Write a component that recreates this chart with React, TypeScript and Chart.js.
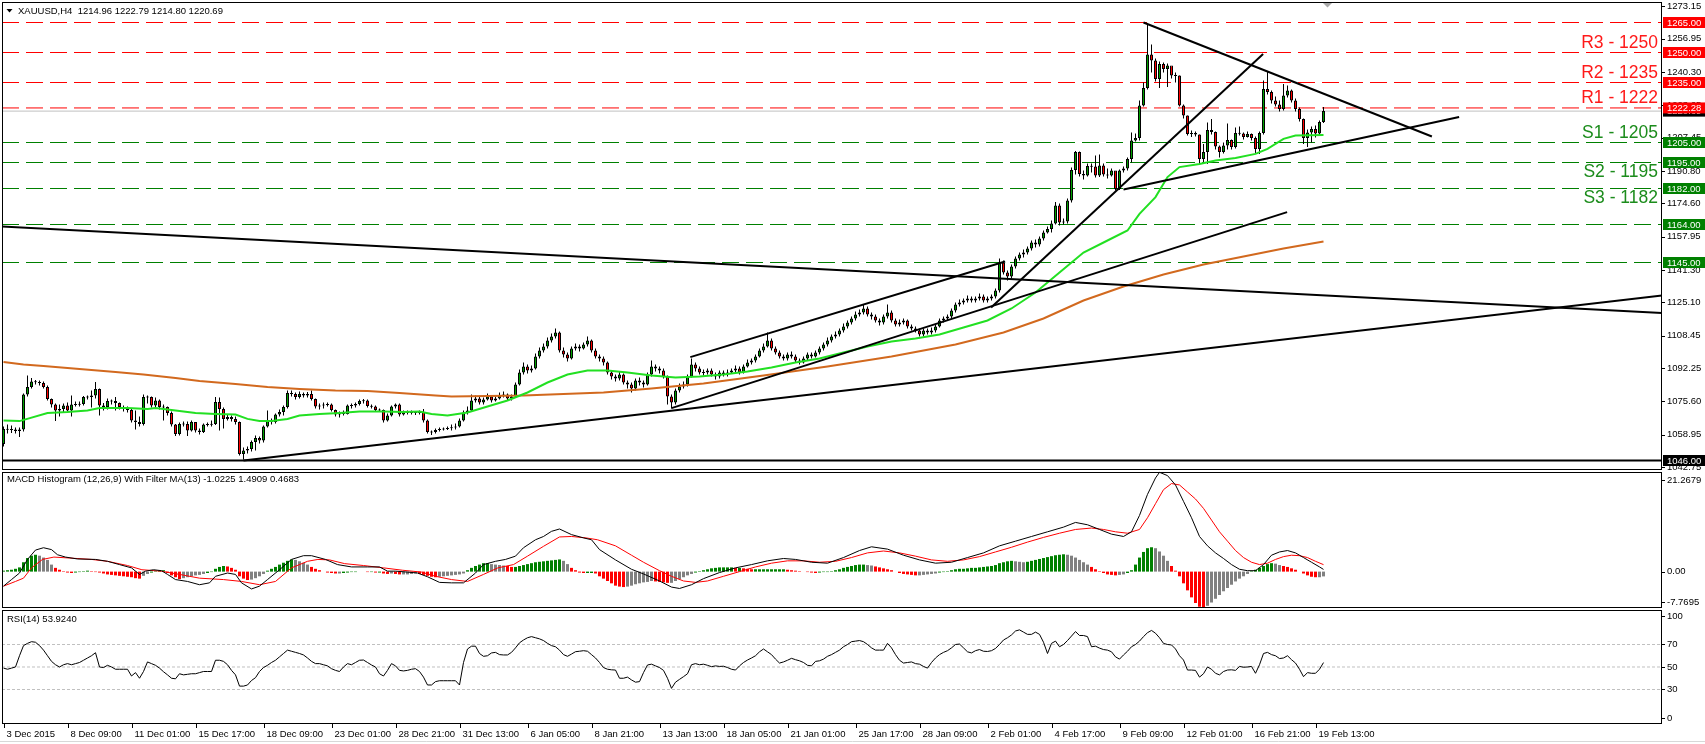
import React, { useEffect, useRef } from 'react';
import { Chart, registerables } from 'chart.js';

Chart.register(...registerables);

// ---------------- DATA (H4 bars, index 0 = 3 Dec 2015) ----------------
const firstOpen = 1054.3;

const closes = [
  1061.8,1061.5,1061.5,1060.7,1061.5,1079,1082.7,1085.5,1085.2,1084.8,
  1082.7,1076.8,1074,1071,1071.8,1073.5,1071,1074,1074,1074.3,
  1077.7,1077.7,1078.5,1081.8,1073.5,1072.7,1075.7,1075.7,1074.7,1072.7,
  1072.3,1071.3,1066,1065.2,1064.3,1077.7,1077.7,1073.5,1076,1072.7,
  1072.7,1069.8,1064,1059.3,1064.3,1064.3,1061,1065.2,1061,1060.2,
  1064,1064,1064.3,1075.2,1071.8,1066.8,1067.7,1066.8,1065.2,1049.3,
  1051,1051.8,1055.2,1057.2,1056,1063,1065.7,1065.3,1069,1070.2,
  1072.7,1079.7,1079.3,1077.7,1079.3,1078.5,1079.3,1076.8,1073,1073.5,
  1074,1074,1071.3,1069,1069.7,1069.3,1073.5,1073.5,1074.3,1075.7,
  1076,1073.3,1073,1071.3,1071.3,1066,1068.5,1073,1074,1069,
  1070.2,1069.7,1070.2,1069.7,1070.2,1066,1060.2,1060.2,1061.3,1061.8,
  1061.8,1062.2,1062.5,1063,1066,1070,1071,1076,1077,1075,
  1076.5,1078,1076,1077,1078.5,1079,1077,1078,1084,1090,
  1093,1091,1092,1098,1101,1103,1106,1108,1110,1101,
  1099,1097,1102,1103,1102,1104,1106,1101,1098,1097,
  1095,1090,1088,1087,1089,1085,1084,1082,1086,1085,
  1084,1089,1093,1092,1091,1088,1078,1075,1081,1083,
  1084,1088,1094,1092,1090,1090,1091,1089,1088,1090,
  1089,1090,1091,1092,1090,1093,1095,1096,1098,1101,
  1103,1106,1102,1100,1098,1097,1099,1098,1096,1095,
  1097,1099,1098,1100,1102,1104,1106,1108,1109,1111,
  1113,1115,1117,1119,1120,1122,1119,1118,1116,1115,
  1118,1120,1116,1114,1115,1116,1113,1112,1111,1109,
  1111,1110,1111,1113,1116,1117,1118,1121,1124,1125,
  1126,1127,1126,1127,1128,1126,1127,1128,1131,1145,
  1140,1138,1143,1147,1149,1150,1152,1155,1154,1157,
  1160,1161.8,1164.5,1173.5,1165,1165.5,1176,1191.3,1200.2,1189.3,
  1188.5,1193.2,1193,1188.5,1193.5,1189,1188.5,1191,1181.8,1191,
  1192,1196.8,1206,1207.3,1223.5,1232.3,1249,1246,1236.8,1244.3,
  1241.8,1243.5,1238.5,1238.5,1223.5,1218.5,1209.3,1209.7,1209,1196.8,
  1200.2,1211.3,1210.2,1203,1200.2,1203.5,1206.3,1202.7,1209.7,1209.5,
  1207.7,1209.3,1207.3,1201.8,1209.7,1231.8,1230.2,1226,1224,1221.8,
  1228.5,1231,1226,1221.8,1216.8,1207.3,1210,1211.8,1209.5,1215.2,1220.69
];

const highs = [
  1063,1064,1063.5,1062.5,1062.5,1079.5,1088.5,1087.2,1086.2,1086,
  1085.5,1083.5,1077,1074.5,1074,1074.5,1075,1078.5,1075.5,1075.5,
  1078.2,1078.5,1081,1085.2,1082,1074.7,1077,1076.5,1077.7,1075,
  1073.5,1073,1071.8,1071,1068,1079,1078.5,1078,1077.5,1076.5,
  1074,1073,1070.5,1064.3,1065,1065.5,1065.5,1066,1063.5,1062,
  1064.5,1065,1066,1077.7,1077.5,1072.5,1069,1068.5,1068,1065.5,
  1052.5,1053,1056,1058.5,1058,1063.5,1071,1067,1069.5,1071.5,
  1073.5,1081,1081,1080,1080.5,1080,1080.2,1081,1077,1074.5,
  1075,1075,1074.5,1071.5,1070.5,1071,1074,1074.5,1075,1076.5,
  1076.8,1076.5,1074,1073.5,1072,1071.5,1069.5,1073.5,1074.5,1074.5,
  1071,1071,1071,1070.5,1071,1071.8,1066.5,1061,1062,1062.5,
  1062.5,1063,1064,1064.5,1067,1071,1073,1079,1078.5,1078,
  1077.5,1079.5,1078.5,1078,1080,1080.5,1079.5,1079,1085,1091.5,
  1095,1094,1093.5,1099.5,1102.5,1104.5,1107.5,1109.5,1112,1110.5,
  1102.5,1100,1103,1104.5,1104,1105,1108,1106.5,1102,1099,
  1098,1095.5,1091,1089,1090.5,1089.5,1086,1085,1087,1087.5,
  1086,1090,1096,1094,1093,1092,1088.5,1079,1082,1084.5,
  1085.5,1089,1097,1095,1093,1091.5,1092,1092,1090,1091,
  1091,1091.5,1092,1093.5,1093,1094,1096.5,1097,1099,1102,
  1104.5,1110,1107,1103,1101,1099,1100,1100.5,1099,1097,
  1098,1100,1100,1101,1103,1105,1107.5,1109,1110.5,1112,
  1114.5,1116,1118,1120.5,1121.5,1124,1123,1120,1119,1117,
  1119,1124,1121,1117,1116.5,1117,1116.5,1114,1113,1112,
  1112,1112,1112.5,1114,1117,1118,1119,1122,1125,1126.5,
  1127,1128.5,1128,1128,1129.5,1129,1128,1129,1132,1147,
  1146,1141,1144,1148,1150,1151.5,1153,1156,1156.5,1158,
  1161,1163,1166,1175.2,1174.5,1167,1177,1192.5,1200.7,1200.5,
  1191,1194.5,1194.5,1198.5,1199,1194.5,1192,1192,1190.5,1191.5,
  1193,1197.5,1210,1209.5,1226,1235,1264.3,1254,1247,1245.5,
  1245,1244.5,1242,1240,1238.5,1224,1218.5,1211,1210.5,1209,
  1204.3,1215,1216.8,1210.5,1203.5,1205,1214.5,1206.5,1212.5,1213,
  1210,1210.5,1209.5,1208,1210.5,1236,1240.2,1231,1228,1226,
  1234.3,1233.5,1231.5,1227,1222.5,1217,1211.5,1213,1213.5,1216,1222.79
];

const lows = [
  1053,1059.5,1059.7,1059.5,1057.7,1060.5,1078,1082,1084,1083.5,
  1082,1076,1072.5,1065.7,1068,1070,1070.5,1068,1073,1073,
  1073.5,1076.5,1072.5,1077,1068.5,1071,1071.5,1074,1071,1071.5,
  1070.5,1070,1065,1061.5,1063,1063.5,1074.5,1072.5,1072,1071.5,
  1066,1068.5,1063,1058.2,1058.5,1063,1058.2,1060.5,1060,1059,
  1059.8,1063,1063,1063.8,1061,1062,1066,1065.5,1064,1048.5,
  1046.5,1049.5,1050.5,1051,1054.5,1055,1062.5,1064,1064.5,1068,
  1068.5,1072,1078,1076.5,1077,1077.5,1077.5,1076,1072,1071.5,
  1072,1073,1070.5,1068,1067.5,1068.5,1069,1072,1072.5,1073.5,
  1074.5,1072.5,1072,1070.5,1070.5,1065,1065.5,1068,1072,1068,
  1068.5,1069,1069,1068.8,1069,1065,1059.5,1058.8,1059.5,1060.5,
  1061,1061.3,1061,1061.5,1062.5,1065.5,1069,1070.5,1075,1074,
  1074,1076,1075,1075.5,1076.5,1077.5,1076,1076,1077.5,1083.5,
  1089,1089.5,1090,1091.5,1097,1100,1102,1105,1107,1100,
  1097.5,1095.5,1096.5,1101,1100.5,1101.5,1103,1100,1097,1095.5,
  1093.5,1089,1086.5,1085.5,1086,1084,1082,1080,1081,1083.5,
  1082.5,1083.5,1088,1090.5,1089.5,1087,1074,1072,1074,1080,
  1082,1083,1087.5,1090.5,1089,1088.5,1089,1088,1086.5,1087,
  1088,1088,1089.5,1090,1089,1089.5,1092.5,1094,1095,1097.5,
  1100,1102.5,1101,1099,1097,1096,1096,1097,1095,1094,
  1094.5,1096,1097,1097.5,1099,1101,1103,1105,1107,1108,
  1110,1112,1114,1116,1118,1119,1118,1116.5,1115,1113.5,
  1114,1117,1115,1113,1113,1114,1112,1111,1110,1108,
  1108,1109,1109,1110,1112.5,1115,1116,1117,1120,1123,
  1124,1125,1125,1125,1126,1125,1125,1126,1127,1130,
  1139,1136,1137,1142,1146,1147.5,1149,1151,1152.5,1153,
  1156,1159.5,1160,1164,1163.5,1164,1164.5,1175,1189,1188,
  1186.5,1188,1190,1187.5,1187.7,1188,1187,1188,1181,1181.3,
  1190,1191,1195,1205.5,1206,1223,1231.5,1240,1235.5,1232.3,
  1240,1232.7,1237,1235,1223,1217,1208.5,1207.7,1208,1194.3,
  1195,1194.3,1209,1201.5,1197.5,1199.5,1201.5,1201.5,1202,1208.5,
  1206.5,1207.5,1206,1199.7,1199.3,1209,1229,1224.5,1223,1220.5,
  1221,1227.5,1225,1220.5,1215.5,1204.3,1202.7,1205,1207.5,1208.5,1214.8
];

// moving averages [bar, value]
const ma50 = [
  [0,1066],[4,1065.7],[11,1069.7],[16,1070.2],[21,1071],[24,1072.3],[31,1072.3],[36,1071.8],[38,1072.3],
  [43,1071],[48,1069.7],[53,1069.3],[58,1069],[61,1066.8],[64,1065.7],[67,1065.7],[71,1066.8],[74,1068.5],
  [79,1069.3],[84,1069.8],[89,1070.5],[95,1070.5],[100,1070.2],[104,1070.5],[107,1069.3],[111,1068.5],
  [116,1070],[121,1073],[126,1076],[131,1080],[136,1085],[141,1089],[146,1091],[151,1091],[156,1090],
  [162,1088.5],[168,1087.5],[174,1088],[180,1089],[186,1090.5],[192,1092.5],[198,1095],[204,1097],
  [210,1100],[216,1103],[222,1105.5],[228,1107],[234,1109],[240,1112.5],[246,1116],[252,1122],[258,1130],
  [264,1140],[270,1150],[276,1156],[281,1161],[284,1169.3],[288,1177.7],[291,1187.7],[294,1192.7],
  [299,1194.3],[303,1196],[308,1197.3],[313,1199.3],[316,1201.8],[320,1206.8],[323,1208.5],[330,1208.8]
];
const ma200 = [
  [0,1095.2],[5,1094],[10,1093.2],[16,1092.3],[22,1091.3],[28,1090.2],[35,1089],[43,1087.3],[49,1085.7],
  [58,1084.3],[66,1082.7],[74,1081.8],[83,1081],[91,1080.7],[99,1079.7],[108,1078.5],[112,1078],
  [130,1078.5],[150,1080],[162,1082],[175,1084.5],[190,1088.5],[206,1093],[222,1098],[238,1104],
  [250,1110],[260,1117],[270,1126],[280,1133],[290,1139],[300,1144],[310,1148],[320,1152],[330,1155.5]
];

// MACD histogram (per bar) and lines [bar, value]
const macdHist = [
  0.2,0.3,0.4,0.6,0.9,2.0,2.9,3.4,3.6,3.4,
  3.0,2.5,1.5,0.8,0.4,0.1,-0.2,-0.3,-0.2,-0.1,
  0.1,0.2,0.1,-0.1,-0.2,-0.4,-0.6,-0.7,-0.8,-0.9,
  -1.0,-1.1,-1.2,-1.4,-1.5,-0.9,-0.5,-0.2,0.1,0.2,
  0.3,-0.3,-0.8,-1.2,-1.6,-1.4,-1.2,-1.0,-0.8,-0.7,
  -0.5,-0.3,-0.1,0.6,1.0,1.2,1.1,0.8,0.4,-1.0,
  -1.5,-1.8,-1.7,-1.4,-1.0,-0.5,0.2,0.6,1.0,1.5,
  1.9,2.3,2.6,2.5,2.2,1.9,1.5,1.0,0.6,0.3,
  0.0,-0.2,-0.3,-0.4,-0.4,-0.3,-0.2,-0.1,-0.1,0.0,
  0.0,-0.1,-0.1,-0.2,-0.2,-0.4,-0.5,-0.4,-0.5,-0.6,
  -0.6,-0.6,-0.5,-0.4,-0.5,-0.7,-0.9,-1.1,-1.2,-1.1,
  -1.0,-0.9,-0.8,-0.7,-0.6,-0.4,0.3,0.8,1.2,1.5,
  1.8,1.8,1.6,1.5,1.4,1.3,1.2,1.0,1.0,1.2,
  1.4,1.6,1.8,2.0,2.1,2.2,2.3,2.4,2.5,2.6,
  2.3,1.6,0.8,0.3,-0.2,-0.3,-0.3,-0.3,-0.4,-1.0,
  -1.5,-2.0,-2.5,-3.0,-3.2,-3.3,-3.2,-3.0,-2.7,-2.5,
  -2.3,-2.2,-2.0,-2.1,-2.2,-2.3,-2.4,-2.4,-2.0,-1.6,
  -1.2,-0.8,-0.5,-0.2,0.1,0.3,0.5,0.7,0.8,0.9,
  0.9,0.9,0.9,0.8,0.8,0.7,0.6,0.5,0.5,0.5,
  0.5,0.5,0.5,0.5,0.5,0.5,0.4,0.3,0.2,0.1,
  0.0,-0.1,-0.2,-0.3,-0.2,-0.1,-0.1,0.1,0.3,0.5,
  0.8,1.0,1.2,1.4,1.5,1.5,1.4,1.3,1.1,0.9,
  0.7,0.5,0.3,0.0,-0.3,-0.5,-0.6,-0.7,-0.8,-0.8,
  -0.7,-0.6,-0.5,-0.4,-0.2,-0.1,0.1,0.3,0.5,0.6,
  0.6,0.7,0.8,0.8,0.9,1.0,1.1,1.2,1.4,1.8,
  2.0,2.2,2.3,2.2,2.1,2.0,2.1,2.3,2.5,2.7,
  2.9,3.1,3.3,3.5,3.6,3.7,3.6,3.4,3.0,2.5,
  2.0,1.5,1.0,0.5,0.1,-0.3,-0.6,-0.7,-0.8,-0.7,
  -0.6,-0.3,0.3,1.5,3.0,4.2,5.0,5.2,5.0,4.3,
  3.4,2.3,1.2,0.2,-1.0,-2.5,-4.0,-5.5,-6.7,-7.5,
  -7.7,-7.3,-6.6,-5.8,-5.0,-4.2,-3.5,-2.8,-2.1,-1.5,
  -1.0,-0.5,0.1,0.4,0.8,1.2,1.6,1.8,1.7,1.4,
  1.2,1.0,0.7,0.4,0.0,-0.4,-0.8,-1.1,-1.2,-1.2,-1.0225
];
const macdMain = [
  [0,-3.1],[2,-1.7],[4,-0.3],[6,2.6],[8,4.6],[10,5.1],[12,4.7],[13.5,3.6],[15.5,3.1],[18.5,2.7],[23,2.6],
  [26,2.2],[29,1.5],[32,0.8],[34,-0.6],[35.5,0.1],[37.5,0.4],[39.5,0.2],[41,-0.6],[43,-1.7],[46,-2.1],
  [49,-2.8],[51.5,-2.4],[53,-1.0],[56,-0.3],[58,-0.6],[59.5,-2.4],[62,-3.7],[64,-3.1],[66,-1.7],[69,0.4],
  [72,2.6],[75,3.4],[77,3.4],[80.5,2.6],[83.5,1.5],[87,1.0],[91,1.0],[94,1.0],[96,0.1],[98,0.1],[101,-0.1],
  [103.5,-0.3],[106,-1.1],[109,-2.3],[112,-2.4],[115,-2.4],[118,-0.3],[120,1.5],[123,2.2],[125.5,2.6],
  [128,3.3],[130,5.1],[133,6.8],[135,7.5],[137,8.6],[139,9.1],[142,7.9],[145,7.2],[147,6.8],[149,4.7],
  [153,2.5],[157,0.5],[160,-0.5],[164,-2],[167,-3.3],[169,-3.6],[172,-2.8],[175,-1.5],[179,-0.2],[183,0.8],
  [187,1.5],[191,2.3],[195,2.8],[198,2.6],[202,2.0],[206,1.8],[210,3.0],[214,4.5],[217,5.3],[221,4.8],
  [225,3.5],[229,2.5],[233,1.8],[237,2.0],[241,3.0],[245,4.0],[249,5.5],[253,6.5],[257,7.5],[261,8.5],
  [265,9.5],[268,10.5],[271,10.0],[274,9.0],[277,8.0],[280,7.5],[282,8.5],[284,12],[286,16.5],[288,20],
  [289,21.2],[291,20.5],[293,18.5],[295,15],[297,11.5],[299,7.5],[301,5.5],[303,4.0],[305,2.8],[307,1.5],
  [309,0.5],[311,0.2],[313,0.2],[315,1.5],[317,3.5],[319,4.2],[321,4.5],[323,4.0],[325,3.0],[327,2.0],
  [329,1.0],[330,0.4683]
];
const macdSignal = [
  [0,-3.1],[3,-2.1],[5,-1.4],[7,0.8],[9.75,2.6],[12.6,3.1],[16.5,2.9],[22,2.6],[26,2.2],[31,1.3],[34.6,0.4],
  [39.4,0.1],[44,-0.6],[49,-1.4],[55,-1.7],[59.5,-2.1],[64,-2.8],[68,-2.1],[72,0.8],[76,2.2],[78.6,2.6],
  [81.5,2.5],[85.3,1.7],[90,1.3],[95,0.8],[99.7,0.3],[104.5,-0.1],[108,-1.0],[112,-1.7],[116,-2.1],
  [120,-0.6],[123.6,0.8],[127.5,1.5],[131,3.3],[135,5.4],[139,7.4],[142,7.5],[145.6,7.2],[148.5,6.8],
  [153,5.5],[157,3.5],[160,2.0],[164,0.2],[167,-1.0],[170,-2.0],[173,-2.3],[176,-2.0],[180,-1.0],[184,0.0],
  [188,1.0],[192,1.8],[196,2.3],[200,2.3],[204,2.0],[208,2.2],[212,3.0],[216,4.0],[220,4.4],[224,4.0],
  [228,3.3],[232,2.5],[236,2.2],[240,2.5],[244,3.2],[248,4.2],[252,5.2],[256,6.3],[260,7.3],[264,8.2],
  [268,9.0],[272,9.3],[275,9.0],[278,8.5],[281,8.2],[284,9.0],[286,11.5],[288,14.5],[290,17.5],[292,18.8],
  [294,18.5],[296,17],[298,15.5],[300,13.5],[302,11.0],[304,8.5],[306,6.5],[308,4.5],[310,3.0],[312,2.0],
  [314,1.5],[316,1.8],[318,2.6],[320,3.2],[322,3.5],[324,3.4],[326,3.0],[328,2.2],[330,1.4909]
];

// RSI(14) per bar
const rsi14 = [
  49,48,49,50,60,69,71,72.5,72,69,
  65,60,55,52,50,52,53,52,53,54,
  56,58,60,62.7,50,49.5,51.5,50,48,48,
  48,48,42,45,40,46,54.5,53,51.5,49,
  45.8,43,40,39.5,44,43,43.5,44,44,45,
  46,46,46,56,56,55,52,47,43,33,
  33,34,38,40.5,46,49.5,51.5,54,56,59,
  62,65,64,63,62,60.7,58,55,53,53,
  52,51,48.5,47,46,50,53,52,54,56,
  56.2,54,51.8,50,44,42,47,53,51,47,
  46.5,47,48,48.5,46,41,34,34,37,37.8,
  37.8,37.8,37.8,37.8,34,54,66,68.5,68.5,62,
  59.5,60,62.5,63,61,60.7,60.7,63,67,71.5,
  74,76,77,76,75,73.5,71,69,68,65,
  61,59.5,61.5,63.6,64,64.5,64,61,58,54,
  49.5,48,47.5,47.3,40,40,41,38.5,36.5,37,
  45,51.8,52.5,51,49.5,47,40,31,36.5,39,
  41.4,44,52,53,52,52.5,51.5,50.3,51,50.5,
  50.7,49.5,48,47.3,51,54,56.2,58,60,63.5,
  66,63.5,61,57,53.5,54.5,56,57.7,56.5,55.5,
  54,51.5,51,55,55.5,57,59.5,61,63,65,
  68,70,72.5,73,73.5,72.5,70,67,65,65,
  65,71,67,61,56,53.5,54,54.5,53,52.5,
  50.5,49,54,58,61,63,64.5,67,70,70.4,
  67,63.5,62.5,64.5,65.5,64,63.8,64.5,66.5,70,
  74,76,78.5,82,83,81,79,79,81,79,
  72,62,71,73,68,70,73.5,77.5,81.5,78,
  78,77,68,68.5,66.8,65.5,65,63.5,59,57,
  60.7,64,68,70,73,77,80.5,82.5,80,76,
  71,70,69.6,66,60,56.2,47.3,47.3,47,41,
  44,50,48,44.4,43,46,47.3,47.5,47,50.5,
  49.8,50,50.5,44.4,52,62,63,61,60,57.5,
  58,60,56.5,53.5,48,41.4,45,44.4,44.4,48,53.924
];

// horizontal levels
const resistanceLevels = [1265, 1250, 1235, 1222.28];
const supportLevels = [1205, 1195, 1182, 1164, 1145];
const floorLevel = 1046;
const bidPrice = 1220.69;
const levelTexts = [
  { text: 'R3 - 1250', value: 1250, side: -1, kind: 'r' },
  { text: 'R2 - 1235', value: 1235, side: -1, kind: 'r' },
  { text: 'R1 - 1222', value: 1222.28, side: -1, kind: 'r' },
  { text: 'S1 - 1205', value: 1205, side: -1, kind: 's' },
  { text: 'S2 - 1195', value: 1195, side: 1, kind: 's' },
  { text: 'S3 - 1182', value: 1182, side: 1, kind: 's' }
];

// trend lines [[bar, price], [bar, price]]
const trendLines = [
  [[-0.375, 1163], [414.625, 1119.7]],
  [[60, 1046], [414.625, 1128.5]],
  [[167, 1072.2], [320.9, 1170.2]],
  [[171.7, 1097.7], [250.4, 1145.5]],
  [[246.9, 1122.5], [314.9, 1249.3]],
  [[285, 1265], [357.1, 1208]],
  [[280, 1181.5], [363.9, 1217.7]]
];

// axis labels
const priceTicks = [1273.15, 1256.95, 1240.30, 1223.65, 1207.45, 1190.80, 1174.60, 1157.95, 1141.30, 1125.10, 1108.45, 1092.25, 1075.60, 1058.95, 1042.75];
const rsiLevels = [70, 50, 30];
const xLabelText = ['3 Dec 2015','8 Dec 09:00','11 Dec 01:00','15 Dec 17:00','18 Dec 09:00','23 Dec 01:00','28 Dec 21:00','31 Dec 13:00','6 Jan 05:00','8 Jan 21:00','13 Jan 13:00','18 Jan 05:00','21 Jan 01:00','25 Jan 17:00','28 Jan 09:00','2 Feb 01:00','4 Feb 17:00','9 Feb 09:00','12 Feb 01:00','16 Feb 21:00','19 Feb 13:00'];
const xLabelBars = [0, 16, 32, 48, 65, 82, 98, 114, 131, 147, 164, 180, 196, 213, 229, 246, 262, 279, 295, 312, 328];

// ---------------- CHART ----------------
const W = 1705, H = 744;
const X0 = -0.375, X1 = 414.625;
const FONT = '"Liberation Sans", Arial, sans-serif';
const RED = '#ff0000', GREEN = '#008000', GRAY = '#808080';

const overlay = {
  id: 'mt4overlay',
  afterDraw(chart: any) {
    const { ctx, chartArea: ca, scales } = chart;
    const xs = scales.x, ys = scales.y, ym = scales.yM, yr = scales.yR;
    const L = ca.left, R = ca.right;
    ctx.save();
    ctx.strokeStyle = '#000';
    ctx.lineWidth = 1;
    const rect = (t: number, b: number) => ctx.strokeRect(L + 0.5, t + 0.5, R - L - 1, b - t - 1);
    rect(ys.top, ys.bottom);
    rect(ym.top + 2, ym.bottom);
    rect(yr.top + 2, yr.bottom);

    ctx.font = `9.5px ${FONT}`;
    ctx.textBaseline = 'middle';
    ctx.textAlign = 'left';
    const tick = (py: number) => {
      const yy = Math.round(py) + 0.5;
      ctx.beginPath(); ctx.moveTo(R, yy); ctx.lineTo(R + 3, yy); ctx.stroke();
    };
    ctx.fillStyle = '#000';
    for (const v of priceTicks) {
      const py = ys.getPixelForValue(v);
      tick(py);
      ctx.fillText(v.toFixed(2), R + 5, py);
    }
    const box = (v: number, bg: string) => {
      const py = ys.getPixelForValue(v);
      ctx.fillStyle = bg;
      ctx.fillRect(R + 1, py - 5.5, W - R - 1, 11);
      ctx.fillStyle = '#fff';
      ctx.fillText(v.toFixed(2), R + 5, py + 0.5);
    };
    box(bidPrice, '#000');
    resistanceLevels.forEach(v => box(v, RED));
    supportLevels.forEach(v => box(v, GREEN));
    box(floorLevel, '#000');

    // MACD axis labels
    ctx.fillStyle = '#000';
    const m0 = ym.getPixelForValue(0);
    tick(ym.top + 10); ctx.fillText('21.2679', R + 5, ym.top + 10);
    tick(m0); ctx.fillText('0.00', R + 5, m0);
    tick(ym.bottom - 6); ctx.fillText('-7.7695', R + 5, ym.bottom - 6);
    // RSI axis labels
    tick(yr.top + 8); ctx.fillText('100', R + 5, yr.top + 8);
    for (const v of rsiLevels) { const py = yr.getPixelForValue(v); tick(py); ctx.fillText(String(v), R + 5, py); }
    tick(yr.bottom - 6); ctx.fillText('0', R + 5, yr.bottom - 6);

    // time labels
    xLabelBars.forEach((b, k) => {
      const px = Math.round(xs.getPixelForValue(b)) + 0.5;
      ctx.beginPath(); ctx.moveTo(px, ca.bottom); ctx.lineTo(px, ca.bottom + 4); ctx.stroke();
      ctx.fillText(xLabelText[k], px + 2, ca.bottom + 10);
    });

    // titles
    ctx.beginPath(); ctx.moveTo(6.5, 9); ctx.lineTo(12.5, 9); ctx.lineTo(9.5, 12.5); ctx.closePath(); ctx.fill();
    ctx.fillText('XAUUSD,H4  1214.96 1222.79 1214.80 1220.69', 18, 11);
    ctx.fillText('MACD Histogram (12,26,9) With Filter MA(13) -1.0225 1.4909 0.4683', 7, ym.top + 9);
    ctx.fillText('RSI(14) 53.9240', 7, yr.top + 11);

    // chart shift marker
    ctx.fillStyle = '#a8a8a8';
    ctx.beginPath(); ctx.moveTo(1323, 3); ctx.lineTo(1332, 3); ctx.lineTo(1327.5, 7.5); ctx.closePath(); ctx.fill();

    // level texts
    ctx.font = `17.5px ${FONT}`;
    ctx.textAlign = 'right';
    for (const t of levelTexts) {
      const py = ys.getPixelForValue(t.value);
      ctx.fillStyle = t.kind === 'r' ? '#ff1a1a' : '#1c8c1c';
      ctx.fillText(t.text, R - 4, py + t.side * 9.5);
    }

    // window bottom edge
    ctx.strokeStyle = '#d8d8d8';
    ctx.beginPath(); ctx.moveTo(0, 741.5); ctx.lineTo(W, 741.5); ctx.stroke();
    ctx.restore();
  }
};

export default function App() {
  const ref = useRef<HTMLCanvasElement>(null);
  useEffect(() => {
    document.body.style.margin = '0';
    document.body.style.overflow = 'hidden';
    const canvas = ref.current;
    if (!canvas) return;

    const opens = closes.map((c, i) => (i === 0 ? firstOpen : closes[i - 1]));
    const bodies = closes.map((c, i) => {
      let a = Math.min(opens[i], c), b = Math.max(opens[i], c);
      if (b - a < 0.5) { const m = (a + b) / 2; a = m - 0.25; b = m + 0.25; }
      return { x: i, y: [a, b] };
    });
    const bodyColors = closes.map((c, i) => (c >= opens[i] ? '#00a000' : '#ff0000'));
    const wicks = closes.map((c, i) => ({ x: i, y: [lows[i], highs[i]] }));
    const histColors = macdHist.map((v, i) => {
      const p = i > 0 ? macdHist[i - 1] : 0;
      if (v >= p) return v > 0 ? GREEN : (v < -0.3 ? GRAY : GREEN);
      return v < 0 ? RED : (v > 1.2 ? GRAY : RED);
    });

    const lineDs = (data: any[], color: string, width: number, yAxisID: string, order: number, dash: number[] = []) => ({
      type: 'line', data, borderColor: color, borderWidth: width, borderDash: dash, pointRadius: 0,
      pointHoverRadius: 0, tension: 0, fill: false, yAxisID, order
    });
    const hline = (v: number, color: string, dash: number[], width: number, order: number, axis = 'y') =>
      lineDs([{ x: X0, y: v }, { x: X1, y: v }], color, width, axis, order, dash);
    const pts = (arr: number[][]) => arr.map(p => ({ x: p[0], y: p[1] }));

    const datasets: any[] = [];
    resistanceLevels.forEach(v => datasets.push(hline(v, RED, [17, 7], 1, 20)));
    supportLevels.forEach(v => datasets.push(hline(v, GREEN, [17, 7], 1, 20)));
    datasets.push(hline(bidPrice, '#c0c0c0', [], 1, 19));
    datasets.push(hline(floorLevel, '#000', [], 2, 18));
    datasets.push({ type: 'bar', data: wicks, backgroundColor: '#000', borderWidth: 0, barThickness: 1, grouped: false, inflateAmount: 0, yAxisID: 'y', order: 12 });
    datasets.push({ type: 'bar', data: bodies, backgroundColor: bodyColors, borderColor: '#000', borderWidth: 1, borderSkipped: false, barThickness: 3, grouped: false, inflateAmount: 0, yAxisID: 'y', order: 11 });
    datasets.push(lineDs(pts(ma200), '#d2691e', 2, 'y', 9));
    datasets.push(lineDs(pts(ma50), '#22e022', 2, 'y', 8));
    trendLines.forEach(t => datasets.push(lineDs(pts(t), '#000', 2, 'y', 5)));
    datasets.push({ type: 'bar', data: macdHist.map((v, i) => ({ x: i, y: v })), backgroundColor: histColors, borderWidth: 0, barThickness: 3, grouped: false, inflateAmount: 0, yAxisID: 'yM', order: 7 });
    datasets.push(lineDs(pts(macdSignal), RED, 1, 'yM', 6));
    datasets.push(lineDs(pts(macdMain), '#000', 1, 'yM', 5));
    rsiLevels.forEach(v => datasets.push(hline(v, '#c0c0c0', [3, 2], 1, 20, 'yR')));
    datasets.push(lineDs(rsi14.map((v, i) => ({ x: i, y: v })), '#000', 1, 'yR', 4));

    const hidden = { display: true, offset: false, ticks: { display: false }, grid: { display: false, drawTicks: false, offset: false }, border: { display: false } };
    const chart = new Chart(canvas, {
      type: 'line',
      data: { datasets },
      options: {
        animation: false,
        responsive: false,
        devicePixelRatio: 1,
        events: [],
        layout: { padding: { left: 2, top: 2, right: W - 1662, bottom: H - 724 } },
        plugins: { legend: { display: false }, tooltip: { enabled: false }, title: { display: false } },
        scales: {
          x: { type: 'linear', min: X0, max: X1, display: false, offset: false, grid: { offset: false } },
          y: { ...hidden, type: 'linear', position: 'right', stack: 'panes', stackWeight: 468, min: 1041.25, max: 1275.25 },
          yM: { ...hidden, type: 'linear', position: 'right', stack: 'panes', stackWeight: 138, min: -7.7695, max: 21.695 },
          yR: { ...hidden, type: 'linear', position: 'right', stack: 'panes', stackWeight: 116, min: -0.67, max: 102.44 }
        }
      } as any,
      plugins: [overlay as any]
    });
    return () => chart.destroy();
  }, []);

  return (
    <div style={{ width: W, height: H, position: 'relative', background: '#fff' }}>
      <canvas ref={ref} width={W} height={H} style={{ display: 'block' }} />
    </div>
  );
}
